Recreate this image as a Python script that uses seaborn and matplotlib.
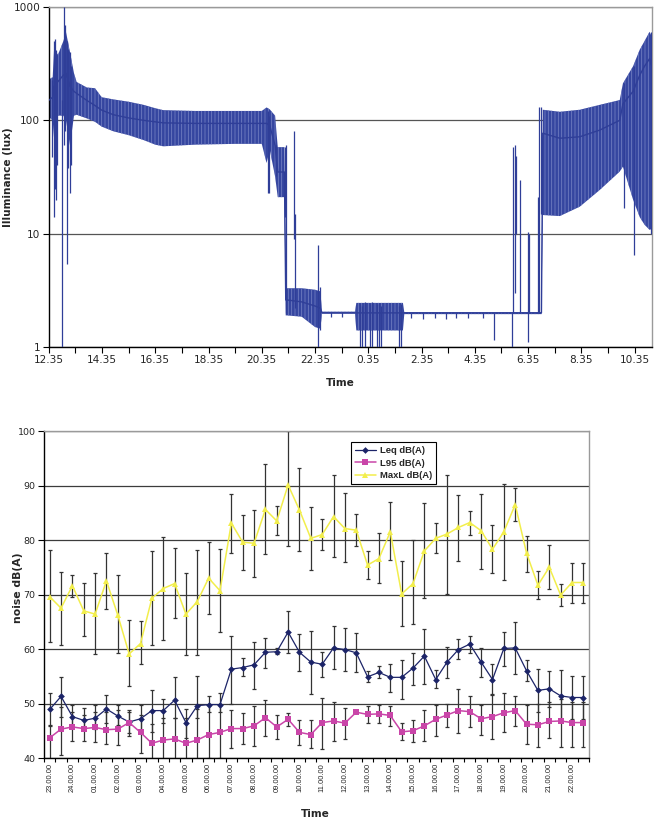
import numpy as np
import pandas as pd
import seaborn as sns
import matplotlib
matplotlib.use('Agg')
import matplotlib.pyplot as plt
from matplotlib.ticker import NullLocator

# ---------------- illuminance (hours after 12.35) ----------------
band_t = [0.0, 0.15, 0.2, 0.35, 0.55, 0.65, 0.8, 0.95, 1.05, 1.43, 1.74, 1.99,
          2.43, 3.0, 3.56, 4.0, 4.3, 5.5, 7.0, 8.0, 8.18, 8.3, 8.5, 8.6, 8.85,
          8.9, 8.95, 9.5, 10.0, 10.2, 10.26, 11.5, 11.55, 13.3, 13.35, 17.4,
          18.5, 18.55, 19.19, 19.94, 20.69, 21.44, 21.56, 21.94, 22.19, 22.37,
          22.56, 22.64]
band_hi = [230, 240, 420, 380, 500, 600, 400, 260, 218, 195, 192, 160,
           153, 146, 137, 128, 123, 121, 121, 121, 130, 125, 110, 58, 58,
           3.3, 3.3, 3.3, 3.2, 3.1, 2.05, 2.05, 2.45, 2.45, 2.03, 2.03,
           2.03, 124, 119, 124, 137, 151, 212, 300, 420, 500,
           605, 550]
band_lo = [107, 100, 70, 110, 110, 100, 60, 110, 112, 104, 97, 88,
           80, 74, 67, 61, 59, 61, 62, 62, 42, 55, 32, 21, 21,
           1.9, 1.9, 1.85, 1.5, 1.45, 1.97, 1.97, 1.4, 1.4, 1.95, 1.95,
           1.95, 14.6, 14.3, 17.3, 24.3, 35.3, 39, 20, 14, 12,
           10.8, 11]
band_mid = [150, 160, 200, 220, 250, 260, 200, 180, 173, 150, 135, 123,
            112, 105, 100, 97, 95, 94, 94, 94, 94, 90, 60, 35, 35,
            2.6, 2.6, 2.5, 2.3, 2.2, 2.0, 2.0, 2.0, 2.0, 2.0, 2.0,
            2.0, 77, 69.5, 71.6, 82, 100, 140, 180, 250, 300,
            350, 300]

spike_t = [0.11, 0.20, 0.24, 0.28, 0.32, 0.49, 0.59, 0.62, 0.68, 0.74, 0.80,
           0.84, 8.22, 8.26, 8.55, 8.87, 8.9, 9.22, 9.26, 10.11, 10.2, 10.6,
           11.0, 11.70, 11.76, 11.88, 12.08, 12.15, 12.33, 12.40, 12.49,
           13.15, 13.22, 13.6, 14.05, 14.5, 14.9, 15.3, 15.75, 16.3, 16.71,
           17.41, 17.45, 17.50, 17.55, 17.68, 18.0, 18.05, 18.36, 18.42,
           18.47, 21.6, 21.98, 22.6]
spike_lo = [47, 14, 25, 20, 40, 1.0, 60, 80, 5.4, 38, 23,
            40, 23, 23, 32, 14, 2.0, 9, 2.2, 1.0, 1.4, 1.85,
            1.85, 1.0, 1.0, 1.0, 1.0, 1.0, 1.0, 1.0, 1.0,
            1.0, 1.0, 1.8, 1.75, 1.8, 1.78, 1.8, 1.82, 1.8, 1.15,
            1.0, 2.0, 3.0, 10, 2.0, 1.1, 2.0, 2.0, 2.0,
            15, 17, 6.5, 10]
spike_hi = [228, 500, 520, 420, 380, 150, 1000, 700, 500, 430, 400,
            300, 120, 110, 60, 58, 60, 80, 15, 8, 3.4, 2.05,
            2.05, 2.4, 2.3, 2.5, 2.4, 2.5, 2.4, 2.45, 2.3,
            2.3, 2.4, 2.0, 2.0, 2.0, 2.0, 2.0, 2.0, 2.0, 2.0,
            2.0, 58, 60, 48, 30, 10.4, 10, 21, 132,
            130, 212, 300, 600]

top_ticks = [0, 2, 4, 6, 8, 10, 12, 14, 16, 18, 20, 22]
top_labels = ['12.35', '14.35', '16.35', '18.35', '20.35', '22.35',
              '0.35', '2.35', '4.35', '6.35', '8.35', '10.35']

# ---------------- noise (half-hour slots from 23.00) ----------------
hour_labels = ['23.00.00', '24.00.00', '01.00.00', '02.00.00', '03.00.00',
               '04.00.00', '05.00.00', '06.00.00', '07.00.00', '08.00.00',
               '09.00.00', '10.00.00', '11.00.00', '12.00.00', '13.00.00',
               '14.00.00', '15.00.00', '16.00.00', '17.00.00', '18.00.00',
               '19.00.00', '20.00.00', '21.00.00', '22.00.00']

leq = [48.9, 51.3, 47.6, 46.9, 47.3, 49.0, 47.7, 46.6, 47.2, 48.7, 48.7, 50.6,
       46.5, 49.6, 49.8, 49.8, 56.3, 56.6, 57.1, 59.4, 59.5, 63.1, 59.4, 57.6,
       57.2, 60.2, 59.9, 59.3, 54.9, 55.7, 54.8, 54.8, 56.5, 58.7, 54.4, 57.6,
       59.9, 60.9, 57.6, 54.4, 60.1, 60.2, 56.0, 52.4, 52.7, 51.4, 51.1, 51.1]
leq_hi = [51.9, 54.8, 49.7, 49.1, 49.8, 51.5, 49.8, 48.8, 49.8, 52.5, 50.9, 54.8,
          48.9, 55.1, 51.3, 51.9, 62.4, 58.3, 61.2, 62.1, 60.1, 67.0, 62.8, 63.3,
          59.5, 64.2, 63.8, 62.9, 56.0, 56.8, 57.2, 58.0, 59.2, 63.7, 56.1, 60.4,
          61.8, 62.3, 60.1, 57.2, 63.1, 64.9, 57.9, 56.3, 56.0, 56.1, 55.1, 55.1]
leq_lo = [46.0, 47.5, 46.1, 45.1, 45.3, 46.5, 46.1, 44.1, 44.8, 44.8, 46.4, 47.3,
          43.7, 47.4, 48.5, 48.4, 50.0, 55.1, 52.6, 56.6, 59.0, 59.2, 56.0, 51.8,
          54.9, 56.3, 56.0, 55.7, 53.9, 54.6, 52.2, 50.8, 53.4, 53.6, 52.8, 54.6,
          58.1, 59.3, 54.9, 51.6, 56.9, 55.5, 54.1, 48.5, 49.3, 46.8, 47.2, 47.2]

l95 = [43.7, 45.3, 45.7, 45.4, 45.6, 45.2, 45.3, 46.5, 44.7, 42.7, 43.3, 43.5,
       42.7, 43.3, 44.3, 44.7, 45.4, 45.4, 45.9, 47.4, 45.7, 47.1, 44.7, 44.3,
       46.5, 46.8, 46.4, 48.4, 48.0, 48.1, 47.8, 44.8, 45.0, 45.9, 47.1, 47.9,
       48.7, 48.5, 47.2, 47.6, 48.3, 48.7, 46.2, 46.1, 46.7, 46.8, 46.5, 46.5]
l95_hi = [45.9, 49.4, 48.5, 47.9, 48.4, 48.5, 48.8, 48.5, 47.9, 46.2, 47.3, 47.3,
          47.3, 49.0, 49.8, 49.7, 48.8, 48.2, 49.5, 50.6, 47.9, 48.2, 47.0, 47.0,
          51.1, 50.2, 49.1, 48.6, 49.6, 49.7, 49.6, 46.4, 47.0, 48.8, 49.8, 50.0,
          52.6, 51.3, 49.8, 51.7, 51.9, 51.3, 49.8, 50.0, 50.3, 50.8, 50.3, 50.3]
l95_lo = [39.0, 40.6, 43.1, 43.1, 43.0, 42.5, 42.4, 44.5, 40.9, 39.0, 39.0, 39.0,
          39.0, 39.0, 40.0, 40.0, 41.9, 42.5, 42.2, 44.0, 43.5, 45.9, 42.3, 41.8,
          41.7, 43.1, 43.5, 48.2, 46.4, 46.5, 45.9, 43.3, 43.0, 43.1, 44.1, 45.7,
          44.5, 45.7, 44.3, 43.5, 44.7, 45.9, 42.5, 42.0, 43.6, 42.1, 42.1, 42.1]

maxl = [69.6, 67.5, 71.6, 67.0, 66.4, 72.5, 66.2, 59.1, 61.0, 69.3, 71.1, 72.0,
        66.4, 68.7, 73.0, 70.7, 83.1, 79.6, 79.4, 85.6, 83.5, 90.1, 85.5, 80.3,
        81.0, 84.3, 82.1, 81.8, 75.4, 76.6, 81.5, 70.1, 72.0, 78.0, 80.3, 81.1,
        82.3, 83.2, 81.7, 78.3, 81.5, 86.5, 77.6, 71.7, 75.0, 69.9, 72.2, 72.2]
maxl_hi = [78.2, 74.1, 73.6, 72.1, 74.0, 77.7, 73.6, 65.4, 65.1, 78.0, 80.6, 78.6,
           73.9, 78.2, 79.6, 78.3, 88.4, 84.5, 85.5, 93.9, 86.2, 100.0, 93.2, 86.1,
           83.8, 91.9, 88.6, 84.7, 78.0, 81.2, 86.9, 76.2, 80.0, 86.7, 83.2, 92.0,
           88.3, 85.4, 88.4, 82.8, 90.2, 89.5, 80.8, 74.4, 79.0, 71.9, 75.8, 75.8]
maxl_lo = [61.2, 60.7, 69.5, 62.3, 59.0, 67.3, 59.2, 53.2, 57.2, 60.7, 61.7, 65.7,
           58.9, 58.9, 66.4, 63.2, 77.7, 74.5, 73.2, 77.4, 80.9, 78.9, 78.0, 74.5,
           78.2, 76.8, 75.9, 78.9, 72.8, 72.2, 76.3, 64.3, 64.5, 69.3, 77.6, 70.1,
           76.2, 80.9, 74.7, 73.9, 72.7, 83.5, 74.2, 69.2, 71.1, 67.9, 68.4, 68.4]

series_names = ['Leq dB(A)', 'L95 dB(A)', 'MaxL dB(A)']
series_colors = ['#1c2468', '#c945a8', '#f2ee4c']
series_markers = ['D', 's', '^']
series_sizes = [3.4, 4.2, 4.4]
series_widths = [0.9, 1.1, 1.1]

sns.set_theme(style='white')
plt.rcParams['font.family'] = ['DejaVu Sans']
plt.rcParams['hatch.linewidth'] = 0.55

fig = plt.figure(figsize=(6.57, 8.22), dpi=100)
W, H = 657.0, 822.0

# ================= top panel =================
ax1 = fig.add_axes([48.7 / W, 1 - 347 / H, 603 / W, 340 / H])
blue = '#2f3e98'
ax1.fill_between(band_t, band_lo, band_hi, facecolor='#3546a0',
                 edgecolor='#7581c4', hatch='|||||', linewidth=0, zorder=2)
sns.lineplot(x=band_t, y=band_mid, ax=ax1, color=blue, lw=1.0, sort=False,
             zorder=3)
ax1.vlines(spike_t, spike_lo, spike_hi, color=blue, lw=0.9, zorder=3)

ax1.set_yscale('log')
ax1.set_ylim(1, 1000)
ax1.set_xlim(0, 22.64)
ax1.set_yticks([1, 10, 100, 1000])
ax1.set_yticklabels(['1', '10', '100', '1000'])
ax1.yaxis.set_minor_locator(NullLocator())
ax1.set_xticks(top_ticks)
ax1.set_xticklabels(top_labels)
ax1.set_xticks(np.arange(1, 23, 2), minor=True)
ax1.tick_params(axis='both', which='both', direction='out', length=4,
                width=0.8, color='black', labelsize=7.6, pad=2,
                bottom=True, left=True)
ax1.yaxis.grid(True, color='#555555', lw=0.9)
ax1.set_axisbelow(True)
for s in ['left', 'bottom']:
    ax1.spines[s].set_color('black')
    ax1.spines[s].set_linewidth(1.0)
for s in ['top', 'right']:
    ax1.spines[s].set_color('#9a9a9a')
    ax1.spines[s].set_linewidth(1.0)
ax1.set_ylabel('Illuminance (lux)', fontweight='bold', fontsize=7.6)
ax1.yaxis.set_label_coords(-0.060, 0.5)
ax1.set_xlabel('Time', fontweight='bold', fontsize=7.6)
ax1.xaxis.set_label_coords(0.483, -0.091)

# ================= bottom panel =================
ax2 = fig.add_axes([44 / W, 1 - 758 / H, 545 / W, 327 / H])
slots = np.arange(len(leq))
vals = [leq, l95, maxl]
his = [leq_hi, l95_hi, maxl_hi]
los = [leq_lo, l95_lo, maxl_lo]

for v, hi, lo in zip(vals, his, los):
    v = np.array(v)
    ax2.errorbar(slots, v, yerr=[v - np.array(lo), np.array(hi) - v],
                 fmt='none', ecolor='#333333', elinewidth=0.9, capsize=1.6,
                 capthick=0.9, zorder=2)

for name, v, col, mk, ms, lw in zip(series_names, vals, series_colors,
                                    series_markers, series_sizes, series_widths):
    df = pd.DataFrame({'slot': slots, 'level': v})
    sns.lineplot(data=df, x='slot', y='level', color=col, marker=mk,
                 markersize=ms, markeredgewidth=0, lw=lw, label=name,
                 ax=ax2, zorder=3)

ax2.set_xlim(-0.5, 47.5)
ax2.set_ylim(40, 100)
ax2.set_yticks(np.arange(40, 101, 10))
ax2.set_xticks(np.arange(-0.5, 48, 1))
ax2.set_xticklabels([])
ax2.set_xticks(np.arange(0, 48, 2), minor=True)
ax2.set_xticklabels(hour_labels, minor=True, rotation=90,
                    family=['Liberation Sans', 'DejaVu Sans'], fontsize=5.4)
ax2.tick_params(axis='x', which='major', direction='out', length=3,
                width=0.8, color='black', bottom=True)
ax2.tick_params(axis='x', which='minor', length=0, pad=3.6, bottom=True)
ax2.tick_params(axis='y', direction='out', length=4, width=0.8,
                color='black', labelsize=6.8, pad=2, left=True)
ax2.yaxis.grid(True, color='#3c3c3c', lw=0.9)
ax2.set_axisbelow(True)
for s in ['left', 'bottom']:
    ax2.spines[s].set_color('black')
    ax2.spines[s].set_linewidth(1.0)
for s in ['top', 'right']:
    ax2.spines[s].set_color('#9a9a9a')
    ax2.spines[s].set_linewidth(1.0)
ax2.set_ylabel('noise dB(A)', fontweight='bold', fontsize=7.8)
ax2.yaxis.set_label_coords(-0.0385, 0.52)
ax2.set_xlabel('Time', fontweight='bold', fontsize=7.6)
ax2.xaxis.set_label_coords(0.4975, -0.157)

handles, labels = ax2.get_legend_handles_labels()
leg = ax2.legend(handles, labels, loc='upper left',
                 bbox_to_anchor=(0.563, 0.966), borderaxespad=0,
                 frameon=True, fancybox=False, framealpha=1,
                 edgecolor='black', handlelength=2.2, handletextpad=0.4,
                 borderpad=0.45, labelspacing=0.35,
                 prop={'family': ['Liberation Sans Narrow', 'Liberation Sans'],
                       'weight': 'bold', 'size': 6.8})
leg.get_frame().set_linewidth(0.8)

fig.savefig('out.png', dpi=100)
